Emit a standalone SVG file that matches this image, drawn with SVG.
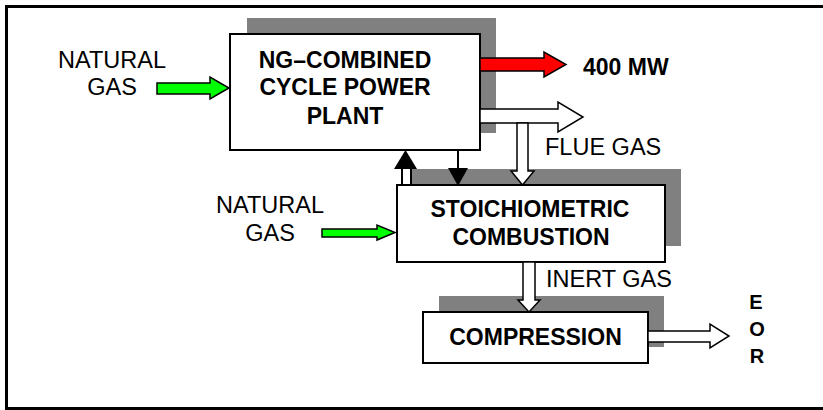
<svg xmlns="http://www.w3.org/2000/svg" width="823" height="410" viewBox="0 0 823 410">
<style>
.shadow{fill:#808080;stroke:none}
.box{fill:#ffffff;stroke:#000000;stroke-width:2}
.t{font-family:"Liberation Sans",Arial,sans-serif;font-size:23.5px;fill:#000}
.b{font-family:"Liberation Sans",Arial,sans-serif;font-size:23px;font-weight:bold;fill:#000}
.ga{fill:#00ff00;stroke:#000;stroke-width:1.5;stroke-linejoin:miter}
.ra{fill:#ff0000;stroke:#000;stroke-width:1.5}
.wa{fill:#ffffff;stroke:#000;stroke-width:1.5}
</style>
<rect x="0" y="0" width="823" height="410" fill="#ffffff"/>
<rect x="6.5" y="6.5" width="830" height="402" fill="none" stroke="#000" stroke-width="3"/>
<g id="node-ngcc">
<rect class="shadow" x="247" y="18" width="249" height="115"/>
<rect class="box" x="230" y="34" width="250" height="116"/>
<text class="b" text-anchor="middle" x="345" y="68">NG–COMBINED</text>
<text class="b" text-anchor="middle" x="345" y="95">CYCLE POWER</text>
<text class="b" text-anchor="middle" x="345" y="124">PLANT</text>
</g>
<g id="node-stoich">
<rect class="shadow" x="412" y="169" width="269" height="77"/>
<rect class="box" x="397" y="185" width="268" height="77"/>
<text class="b" text-anchor="middle" x="530" y="217">STOICHIOMETRIC</text>
<text class="b" text-anchor="middle" x="531" y="245">COMBUSTION</text>
</g>
<g id="node-compression">
<rect class="shadow" x="439" y="296" width="225" height="51"/>
<rect class="box" x="423" y="312" width="225" height="51"/>
<text class="b" text-anchor="middle" x="535.5" y="345">COMPRESSION</text>
</g>
<g id="labels">
<text class="t" text-anchor="middle" x="112" y="68">NATURAL</text>
<text class="t" text-anchor="middle" x="112" y="95">GAS</text>
<text class="t" text-anchor="middle" x="270" y="213">NATURAL</text>
<text class="t" text-anchor="middle" x="270" y="241">GAS</text>
<text class="b" x="583" y="75">400 MW</text>
<text class="t" x="545" y="155">FLUE GAS</text>
<text class="t" x="546" y="287">INERT GAS</text>
<text class="b" style="font-size:20px" text-anchor="middle" x="756" y="309">E</text>
<text class="b" style="font-size:20px" text-anchor="middle" x="757" y="336">O</text>
<text class="b" style="font-size:20px" text-anchor="middle" x="757" y="363">R</text>
</g>
<g id="connectors">
<polygon class="ga" points="157,83 210,83 210,77 229,88 210,99 210,94 157,94"/>
<polygon class="ga" points="322,229 377,229 377,225 395,232.5 377,240 377,237 322,237"/>
<polygon class="ra" points="480,58 544,58 544,52 566,64.5 544,77 544,71 480,71"/>
<polygon class="wa" points="480,109 558,109 558,102 583,117 558,132 558,123 480,123"/>
<polygon class="wa" points="517,123 528,123 528,171 534,171 522.5,185 511,171 517,171"/>
<polygon class="wa" points="523,262 535,262 535,300 540,300 529,312 518,300 523,300"/>
<polygon class="wa" points="648,331 710,331 710,324 729,336 710,348 710,342 648,342"/>
<rect x="402" y="168" width="9" height="17" fill="#fff" stroke="#000" stroke-width="2"/>
<polygon points="394,169 417,169 405.5,150" fill="#000"/>
<line x1="458" y1="150" x2="458" y2="169" stroke="#000" stroke-width="2"/>
<polygon points="448,168 468,168 458,186" fill="#000"/>
</g>
</svg>
